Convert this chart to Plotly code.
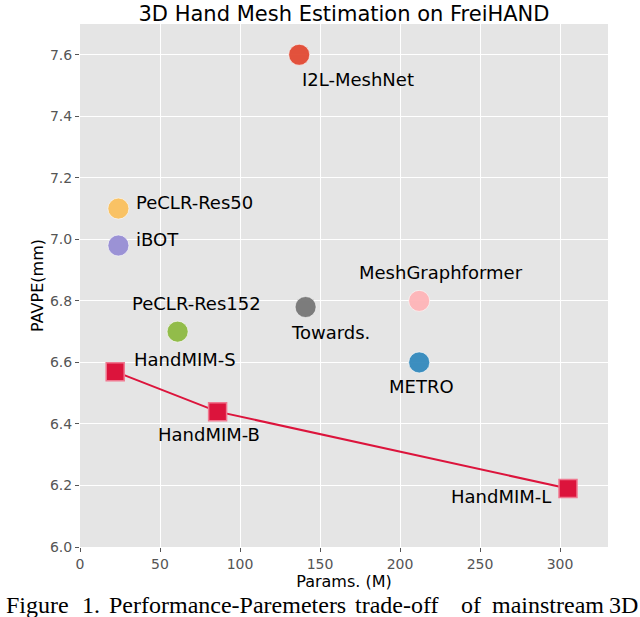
import plotly.graph_objects as go

# --- data ---
methods = ["I2L-MeshNet", "METRO", "iBOT", "Towards.", "PeCLR-Res50", "PeCLR-Res152", "MeshGraphformer"]
params = [137, 212, 24, 141, 24, 61, 212]
pavpe = [7.60, 6.60, 6.98, 6.78, 7.10, 6.70, 6.80]
colors = ["#E24A33", "#348ABD", "#988ED5", "#777777", "#FBC15E", "#8EBA42", "#FFB5B8"]

handmim_names = ["HandMIM-S", "HandMIM-B", "HandMIM-L"]
handmim_params = [22, 86, 305]
handmim_pavpe = [6.57, 6.44, 6.19]

x_ticks = [0, 50, 100, 150, 200, 250, 300]
y_ticks = [6.0, 6.2, 6.4, 6.6, 6.8, 7.0, 7.2, 7.4, 7.6]

caption_words = ["Figure", "1.", "Performance-Paremeters", "trade-off", "of", "mainstream", "3D"]

# label placement (anchor, xshift, yshift) in pixels relative to the marker
label_pos = {
    "I2L-MeshNet": ("left", 1, -25),
    "METRO": ("center", 2, -24),
    "iBOT": ("left", 16, 6),
    "Towards.": ("center", 25, -25),
    "PeCLR-Res50": ("left", 16, 6),
    "PeCLR-Res152": ("left", -48, 28),
    "MeshGraphformer": ("center", 22, 28),
    "HandMIM-S": ("left", 17, 12),
    "HandMIM-B": ("left", -62, -23),
    "HandMIM-L": ("right", -15, -8),
}
caption_x = [4, 80, 107, 353, 459, 490, 607]

W, H = 640, 617
L, R, T, B = 80, 32, 24, 70

fig = go.Figure()

for name, px, py, c in zip(methods, params, pavpe, colors):
    fig.add_trace(go.Scatter(
        x=[px], y=[py], mode="markers", name=name,
        marker=dict(size=21, color=c, opacity=0.95,
                    line=dict(color="rgba(255,255,255,0.6)", width=1)),
    ))

fig.add_trace(go.Scatter(
    x=handmim_params, y=handmim_pavpe, mode="lines+markers", name="HandMIM",
    line=dict(color="#DC143C", width=2),
    marker=dict(symbol="square", size=18, color="#DC143C",
                line=dict(color="#F07890", width=1.5)),
))

annotations = []
for name, px, py in list(zip(methods, params, pavpe)) + list(zip(handmim_names, handmim_params, handmim_pavpe)):
    anchor, dx, dy = label_pos[name]
    annotations.append(dict(
        x=px, y=py, xref="x", yref="y", text=name, showarrow=False,
        xanchor=anchor, yanchor="middle", xshift=dx, yshift=dy,
        font=dict(family="DejaVu Sans", size=18, color="#000000"),
    ))

# caption below the chart (cut off at the bottom, as in the source image)
pw = W - L - R
ph = H - T - B
for word, cx in zip(caption_words, caption_x):
    annotations.append(dict(
        x=(cx - L) / pw, y=(H - B - 605) / ph, xref="paper", yref="paper",
        text=word, showarrow=False, xanchor="left", yanchor="middle",
        font=dict(family="Liberation Serif", size=24, color="#000000"),
    ))

fig.update_layout(
    width=W, height=H,
    margin=dict(l=L, r=R, t=T, b=B),
    paper_bgcolor="white",
    plot_bgcolor="#E5E5E5",
    showlegend=False,
    title=dict(text="3D Hand Mesh Estimation on FreiHAND", x=344 / W, xanchor="center",
               y=1 - 14 / H, yanchor="middle",
               font=dict(family="DejaVu Sans", size=21, color="#000000")),
    annotations=annotations,
    font=dict(family="DejaVu Sans"),
)

fig.update_xaxes(
    range=[0, 330], tickvals=x_ticks, showgrid=True, gridcolor="white", gridwidth=1.2,
    zeroline=False, showline=False, ticks="outside", ticklen=4, tickcolor="#555555",
    tickfont=dict(size=14, color="#555555"), automargin=False,
    title=dict(text="Params. (M)", font=dict(size=16, color="#000000"), standoff=2),
)
fig.update_yaxes(
    range=[6.0, 7.7], tickvals=y_ticks, tickformat=".1f", showgrid=True, gridcolor="white",
    gridwidth=1.2, zeroline=False, showline=False, ticks="outside", ticklen=4,
    tickcolor="#555555", tickfont=dict(size=14, color="#555555"), automargin=False,
    title=dict(text="PAVPE(mm)", font=dict(size=16, color="#000000"), standoff=2),
)

# drop the browser's default 8px body margin so the figure sits at (0, 0)
fig.write_html("out.html", config={"displayModeBar": False},
               post_script="document.body.style.margin='0';")
